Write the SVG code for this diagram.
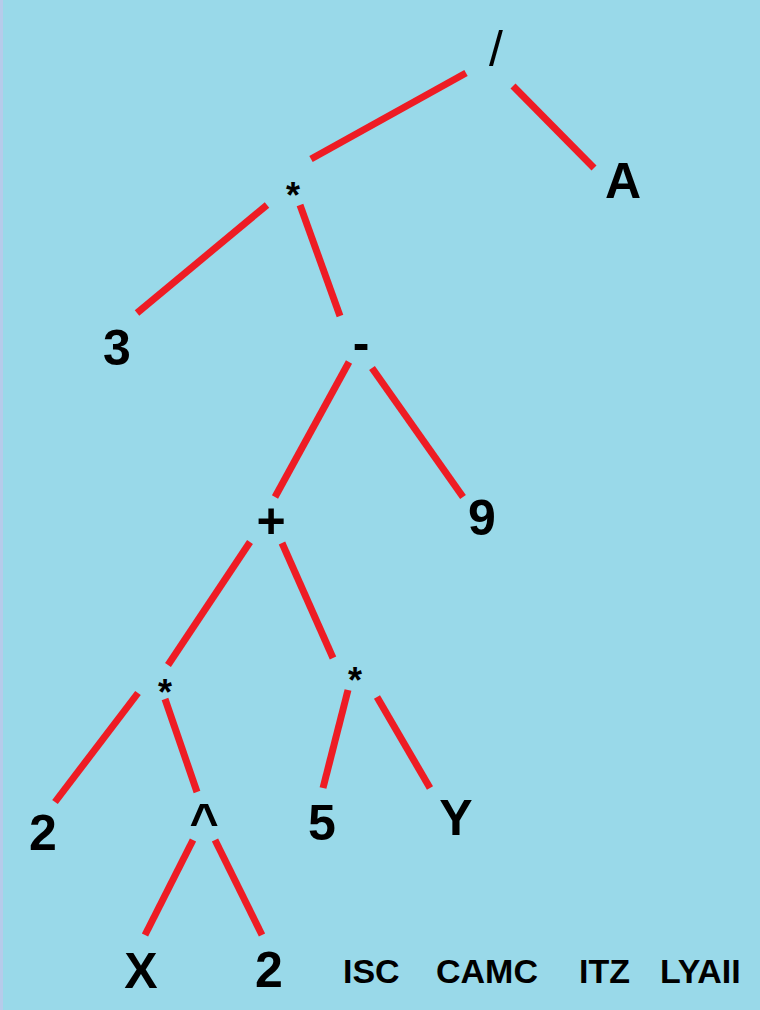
<svg xmlns="http://www.w3.org/2000/svg" width="760" height="1010" viewBox="0 0 760 1010">
<style>
.e{stroke:#ee1c24;stroke-width:7;stroke-linecap:butt;fill:none}
.t{font-family:"Liberation Sans",Arial,sans-serif;font-weight:bold;font-size:50px;fill:#000;text-anchor:middle}
.a{font-family:"Liberation Sans",Arial,sans-serif;font-weight:bold;font-size:36px;fill:#000;text-anchor:middle}
.s{font-family:"Liberation Sans",Arial,sans-serif;font-weight:bold;font-size:34px;fill:#000}
.n{font-weight:normal}
</style>
<rect x="0" y="0" width="760" height="1010" fill="#99d9e9"/>
<rect x="0" y="0" width="3" height="1010" fill="#b6cbea"/>
<g id="connectors">
<line class="e" x1="466" y1="73" x2="311" y2="159"/>
<line class="e" x1="513" y1="86" x2="594" y2="168"/>
<line class="e" x1="267" y1="205" x2="137" y2="313"/>
<line class="e" x1="300" y1="205" x2="340" y2="316"/>
<line class="e" x1="349" y1="362" x2="275" y2="497"/>
<line class="e" x1="372" y1="368" x2="463" y2="497"/>
<line class="e" x1="250" y1="542" x2="168" y2="665"/>
<line class="e" x1="282" y1="543" x2="333" y2="658"/>
<line class="e" x1="138" y1="693" x2="55" y2="802"/>
<line class="e" x1="165" y1="699" x2="197" y2="792"/>
<line class="e" x1="348" y1="690" x2="323" y2="788"/>
<line class="e" x1="377" y1="697" x2="430" y2="788"/>
<line class="e" x1="193" y1="840" x2="145" y2="935"/>
<line class="e" x1="215" y1="840" x2="262" y2="935"/>
</g>
<g id="n-div"><text class="t n" x="496" y="66">/</text></g>
<g id="n-A"><text class="t" x="623" y="198">A</text></g>
<g id="n-mul1"><text class="a" x="293" y="208">*</text></g>
<g id="n-3"><text class="t" x="117" y="365">3</text></g>
<g id="n-minus"><text class="t" x="361" y="360">-</text></g>
<g id="n-plus"><text class="t" x="271" y="538">+</text></g>
<g id="n-9"><text class="t" x="482" y="535">9</text></g>
<g id="n-mul2"><text class="a" x="165" y="705">*</text></g>
<g id="n-mul3"><text class="a" x="355" y="693">*</text></g>
<g id="n-2a"><text class="t" x="43" y="850">2</text></g>
<g id="n-pow"><text class="t" x="204" y="839">^</text></g>
<g id="n-5"><text class="t" x="322" y="840">5</text></g>
<g id="n-Y"><text class="t" x="456" y="835">Y</text></g>
<g id="n-X"><text class="t" x="141" y="988">X</text></g>
<g id="n-2b"><text class="t" x="269" y="987">2</text></g>
<g id="labels">
<text class="s" x="343" y="983">ISC</text>
<text class="s" x="436" y="983">CAMC</text>
<text class="s" x="579" y="983">ITZ</text>
<text class="s" x="660" y="983">LYAII</text>
</g>
</svg>
